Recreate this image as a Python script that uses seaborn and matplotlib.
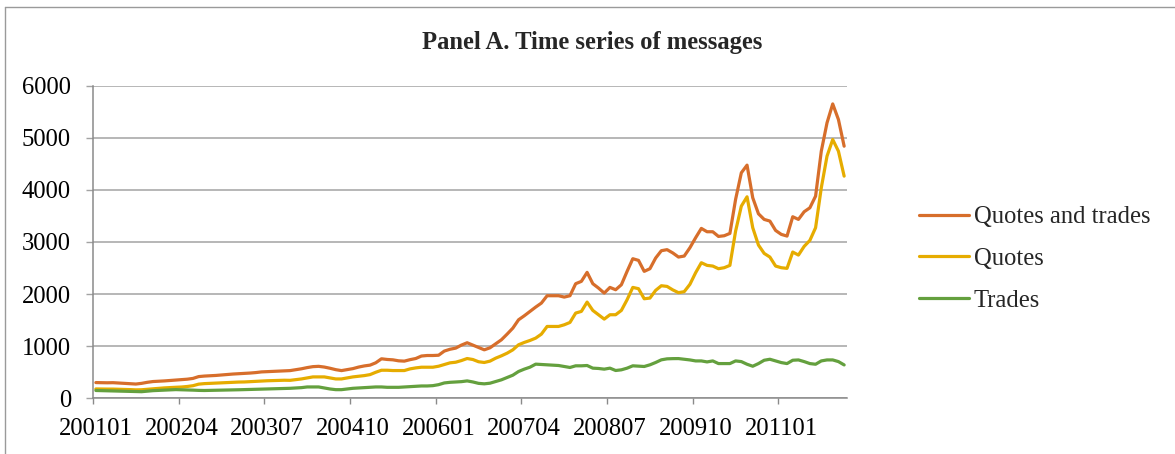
import numpy as np
import pandas as pd
import matplotlib
matplotlib.use("Agg")
import matplotlib.pyplot as plt
from matplotlib.lines import Line2D
import seaborn as sns

# ---------------- data (monthly, 200101 - 201112) ----------------
months = [f"{y}{m:02d}" for y in range(2001, 2012) for m in range(1, 13)]

quotes_and_trades = [
    300, 298, 296, 298, 292, 285, 278, 272, 285, 305,
    320, 325, 332, 340, 350, 358, 365, 380, 415, 425,
    430, 437, 445, 455, 464, 470, 476, 483, 492, 505,
    510, 515, 520, 525, 530, 548, 565, 588, 606, 612,
    598, 575, 548, 530, 548, 568, 598, 620, 635, 680,
    757, 744, 737, 718, 712, 740, 762, 810, 820, 820,
    825, 905, 940, 962, 1020, 1065, 1020, 975, 929, 968,
    1045, 1122, 1231, 1346, 1506, 1583, 1667, 1750, 1827, 1968,
    1968, 1968, 1942, 1968, 2199, 2244, 2417, 2199, 2115, 2019,
    2128, 2083, 2179, 2436, 2679, 2647, 2436, 2487, 2692, 2833,
    2853, 2790, 2711, 2730, 2890, 3082, 3261, 3197, 3197, 3107,
    3120, 3165, 3820, 4329, 4476, 3849, 3542, 3434, 3402, 3222,
    3146, 3114, 3485, 3434, 3581, 3657, 3881, 4744, 5288, 5652,
    5352, 4840,
]

quotes = [
    178, 176, 175, 175, 172, 168, 165, 160, 162, 170,
    180, 190, 198, 205, 210, 215, 225, 240, 270, 280,
    285, 290, 295, 300, 305, 310, 312, 318, 325, 330,
    335, 338, 342, 345, 343, 357, 370, 389, 409, 409,
    409, 389, 370, 370, 389, 409, 421, 434, 453, 498,
    537, 537, 531, 531, 531, 563, 582, 595, 595, 595,
    614, 646, 679, 691, 723, 762, 743, 700, 686, 712,
    769, 814, 865, 929, 1026, 1071, 1109, 1154, 1231, 1378,
    1378, 1378, 1410, 1455, 1635, 1667, 1846, 1686, 1603, 1519,
    1603, 1603, 1686, 1891, 2128, 2103, 1910, 1923, 2071, 2160,
    2147, 2080, 2027, 2046, 2187, 2410, 2602, 2551, 2538, 2487,
    2506, 2551, 3210, 3689, 3868, 3274, 2941, 2781, 2711, 2538,
    2506, 2494, 2807, 2749, 2916, 3031, 3274, 4041, 4648, 4968,
    4744, 4265,
]

trades = [
    148, 145, 143, 140, 138, 135, 130, 125, 125, 135,
    145, 150, 155, 160, 165, 162, 158, 155, 150, 148,
    150, 152, 155, 158, 160, 162, 165, 168, 170, 173,
    175, 178, 182, 186, 190, 197, 203, 216, 216, 216,
    197, 177, 164, 164, 177, 190, 197, 203, 209, 216,
    216, 209, 209, 209, 216, 222, 228, 235, 235, 241,
    260, 293, 305, 312, 318, 332, 312, 285, 276, 288,
    321, 353, 397, 442, 513, 558, 596, 654, 647, 641,
    635, 628, 609, 590, 622, 622, 628, 577, 571, 558,
    577, 532, 545, 577, 622, 615, 609, 641, 686, 737,
    756, 760, 761, 748, 735, 716, 716, 697, 716, 665,
    665, 665, 716, 703, 652, 614, 665, 729, 748, 716,
    684, 665, 729, 735, 703, 665, 652, 716, 735, 735,
    703, 639,
]

series_names = ["Quotes and trades", "Quotes", "Trades"]
series_colors = ["#D76E2B", "#E6AC00", "#64A03E"]

frames = []
for name, vals in zip(series_names, [quotes_and_trades, quotes, trades]):
    frames.append(pd.DataFrame({"pos": np.arange(len(months)),
                                "month": months,
                                "value": vals,
                                "series": name}))
df = pd.concat(frames, ignore_index=True)

# ---------------- style ----------------
sns.set_theme(style="white")
plt.rcParams["font.family"] = ["Liberation Serif", "DejaVu Serif"]
FS = 17.7
GRID = "#a3a3a3"
AXC = "#8a8a8a"

W, H = 1175, 454
fig = plt.figure(figsize=(W / 100, H / 100), dpi=100)
x0, x1 = 93, 847
y_top, y_bot = 85.8, 398.2
ax = fig.add_axes([x0 / W, 1 - y_bot / H, (x1 - x0) / W, (y_bot - y_top) / H])

sns.lineplot(data=df, x="pos", y="value", hue="series",
             hue_order=series_names, palette=series_colors,
             linewidth=2.3, ax=ax, legend=False, zorder=3)

n = len(months)
ax.set_xlim(-0.5, n - 0.5)
ax.set_ylim(0, 6000)
ax.set_xlabel("")
ax.set_ylabel("")

# y axis
ax.set_yticks(range(0, 6001, 1000))
ax.set_yticklabels([str(v) for v in range(0, 6001, 1000)], fontsize=FS, color="black")
ax.grid(axis="y", color=GRID, linewidth=1.1, zorder=0)
ax.grid(axis="x", visible=False)
ax.tick_params(axis="y", which="major", direction="out", length=5, width=1,
               color=GRID, pad=10.8, left=True)

# x axis: labels at category centres, tick marks at category boundaries
label_pos = list(range(0, n, 15))
ax.set_xticks(label_pos)
ax.set_xticklabels([months[i] for i in label_pos], fontsize=FS, color="black")
ax.set_xticks([p - 0.5 for p in label_pos], minor=True)
ax.tick_params(axis="x", which="major", length=0, pad=14.5)
ax.tick_params(axis="x", which="minor", direction="out", length=4.3, width=1,
               color=AXC, bottom=True)

for s in ["top", "right"]:
    ax.spines[s].set_visible(False)
for s in ["left", "bottom"]:
    ax.spines[s].set_visible(True)
    ax.spines[s].set_color(AXC)
    ax.spines[s].set_linewidth(1.1)

# title
fig.text(592 / W, 1 - 49.3 / H, "Panel A. Time series of messages",
         ha="center", va="baseline", fontsize=FS, fontweight="bold")

# legend
handles = [Line2D([0], [0], color=c, lw=2.3) for c in series_colors]
fig.legend(handles, series_names, loc="upper left",
           bbox_to_anchor=(919 / W, 1 - 206 / H), frameon=False,
           fontsize=FS, handlelength=2.03, handletextpad=0.2,
           labelspacing=0.8, borderpad=0, borderaxespad=0)

# chart-area border (left and top edges visible)
fig.add_artist(Line2D([5 / W, 5 / W], [0, 1 - 6.7 / H], transform=fig.transFigure,
                      color="#9a9a9a", lw=1))
fig.add_artist(Line2D([5 / W, 1], [1 - 6.7 / H, 1 - 6.7 / H], transform=fig.transFigure,
                      color="#9a9a9a", lw=1))

fig.savefig("out.png", dpi=100, facecolor="white")
